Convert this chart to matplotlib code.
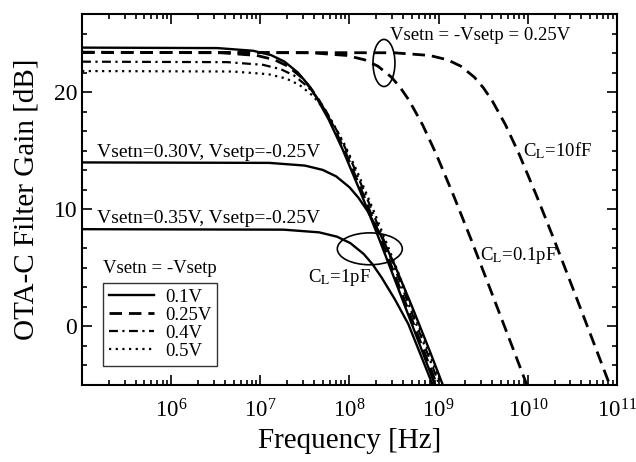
import numpy as np
import matplotlib
matplotlib.use("Agg")
import matplotlib.pyplot as plt
from matplotlib.patches import Ellipse
from matplotlib.lines import Line2D
from matplotlib.ticker import FixedLocator, LogLocator, MultipleLocator, NullFormatter, LogFormatterMathtext

plt.rcParams['font.family'] = ['Liberation Serif', 'DejaVu Serif']
plt.rcParams['mathtext.fontset'] = 'stix'

# ---- data (log10 of frequency in Hz, gain in dB) ----
lf_01v = [5.0, 6.52, 6.92, 7.12, 7.27, 7.42, 7.52, 7.62, 7.77, 7.92, 8.12, 8.32, 8.52, 8.77, 9.02]
g_01v = [23.8, 23.76, 23.53, 23.16, 22.61, 21.68, 20.79, 19.68, 17.61, 15.16, 11.53, 7.71, 3.76, -1.21, -6.2]

lf_025v = [5.0, 6.56, 6.96, 7.16, 7.31, 7.46, 7.56, 7.66, 7.81, 7.96, 8.16, 8.36, 8.56, 8.81, 9.06]
g_025v = [23.4, 23.36, 23.13, 22.76, 22.21, 21.28, 20.39, 19.28, 17.21, 14.76, 11.13, 7.31, 3.36, -1.61, -6.6]

lf_04v = [5.0, 6.63, 7.03, 7.23, 7.38, 7.53, 7.63, 7.73, 7.88, 8.03, 8.23, 8.43, 8.63, 8.88, 9.13]
g_04v = [22.6, 22.56, 22.33, 21.96, 21.41, 20.48, 19.59, 18.48, 16.41, 13.96, 10.33, 6.51, 2.56, -2.41, -7.4]

lf_05v = [5.0, 6.69, 7.09, 7.29, 7.44, 7.59, 7.69, 7.79, 7.94, 8.09, 8.29, 8.49, 8.69, 8.94, 9.19]
g_05v = [21.8, 21.76, 21.53, 21.16, 20.61, 19.68, 18.79, 17.68, 15.61, 13.16, 9.53, 5.71, 1.76, -3.21, -8.2]

lf_030n = [5.0, 7.10, 7.50, 7.70, 7.85, 8.00, 8.10, 8.20, 8.35, 8.50, 8.70, 8.90, 9.10]
g_030n = [14.0, 13.96, 13.73, 13.36, 12.81, 11.88, 10.99, 9.88, 7.81, 5.36, 1.73, -2.09, -6.04]

lf_035n = [5.0, 7.26, 7.66, 7.86, 8.01, 8.16, 8.26, 8.36, 8.51, 8.66, 8.86, 9.06]
g_035n = [8.3, 8.26, 8.03, 7.66, 7.11, 6.18, 5.29, 4.18, 2.3, 0.2, -3.6, -7.4]

lf_cl01p = [5.0, 7.57, 7.97, 8.17, 8.32, 8.47, 8.57, 8.67, 8.82, 8.97, 9.17, 9.37, 9.57, 9.82, 10.07]
g_cl01p = [23.4, 23.36, 23.13, 22.76, 22.21, 21.28, 20.39, 19.28, 17.21, 14.76, 11.13, 7.31, 3.36, -1.61, -6.6]

lf_cl10f = [5.0, 8.50, 8.90, 9.10, 9.25, 9.40, 9.50, 9.60, 9.75, 9.90, 10.10, 10.30, 10.50, 10.75, 11.00]
g_cl10f = [23.4, 23.36, 23.13, 22.76, 22.21, 21.28, 20.39, 19.28, 17.21, 14.76, 11.13, 7.31, 3.36, -1.61, -6.6]

legend_labels = ['0.1V', '0.25V', '0.4V', '0.5V']
x_major_exps = [6, 7, 8, 9, 10, 11]

# ---- styles ----
solid = dict(color='black', lw=1.7, linestyle='-')
dashed = dict(color='black', lw=2.0, linestyle=(0, (4.5, 2.5)))
dashdot = dict(color='black', lw=1.6, linestyle=(0, (4, 2, 1, 2)))
dotted = dict(color='black', lw=1.6, linestyle=(0, (1, 2)))

fig = plt.figure(figsize=(6.36, 4.62), dpi=100)
ax = fig.add_axes([0.129, 0.1667, 0.841, 0.803])

def f(lf):
    return np.power(10.0, np.asarray(lf))

ax.plot(f(lf_05v), g_05v, **dotted)
ax.plot(f(lf_04v), g_04v, **dashdot)
ax.plot(f(lf_025v), g_025v, **dashed)
ax.plot(f(lf_01v), g_01v, **solid)
ax.plot(f(lf_030n), g_030n, **solid)
ax.plot(f(lf_035n), g_035n, **solid)
ax.plot(f(lf_cl01p), g_cl01p, **dashed)
ax.plot(f(lf_cl10f), g_cl10f, **dashed)

ax.set_xscale('log')
ax.set_xlim(1e5, 1e11)
ax.set_ylim(-5, 26.67)

ax.xaxis.set_major_locator(FixedLocator([10.0 ** e for e in x_major_exps]))
ax.xaxis.set_major_formatter(LogFormatterMathtext())
ax.xaxis.set_minor_locator(LogLocator(base=10, subs=np.arange(2, 10), numticks=20))
ax.xaxis.set_minor_formatter(NullFormatter())
ax.yaxis.set_major_locator(MultipleLocator(10))
ax.yaxis.set_minor_locator(MultipleLocator(10 / 6))

ax.tick_params(which='both', direction='in', top=True, right=True, width=1.2)
ax.tick_params(axis='y', labelsize=17)
ax.tick_params(axis='x', labelsize=16.5, pad=10)
ax.tick_params(which='major', length=7)
ax.tick_params(which='minor', length=3.5)
for sp in ax.spines.values():
    sp.set_linewidth(1.5)

ax.set_xlabel('Frequency [Hz]', fontsize=21, labelpad=4)
ax.set_ylabel('OTA-C Filter Gain [dB]', fontsize=21, labelpad=10)

# annotations
tfs = 13.5
ax.text(0.576, 0.943, 'Vsetn = -Vsetp = 0.25V', transform=ax.transAxes, fontsize=tfs, va='center', ha='left')
ax.text(0.028, 0.628, 'Vsetn=0.30V, Vsetp=-0.25V', transform=ax.transAxes, fontsize=14, va='center', ha='left')
ax.text(0.028, 0.450, 'Vsetn=0.35V, Vsetp=-0.25V', transform=ax.transAxes, fontsize=14, va='center', ha='left')
ax.text(0.824, 0.633, r'C$_{\mathrm{L}}$=10fF', transform=ax.transAxes, fontsize=tfs, va='center', ha='left')
ax.text(0.744, 0.350, r'C$_{\mathrm{L}}$=0.1pF', transform=ax.transAxes, fontsize=tfs, va='center', ha='left')
ax.text(0.422, 0.291, r'C$_{\mathrm{L}}$=1pF', transform=ax.transAxes, fontsize=tfs, va='center', ha='left')

ax.add_patch(Ellipse((0.5645, 0.868), 0.041, 0.127, transform=ax.transAxes,
                     fill=False, edgecolor='black', lw=1.2))
ax.add_patch(Ellipse((0.538, 0.367), 0.1215, 0.086, transform=ax.transAxes,
                     fill=False, edgecolor='black', lw=1.2))

# legend
ax.text(0.039, 0.315, 'Vsetn = -Vsetp', transform=ax.transAxes, fontsize=tfs, va='center', ha='left')
handles = [Line2D([], [], **solid), Line2D([], [], **dashed),
           Line2D([], [], **dashdot), Line2D([], [], **dotted)]
leg = ax.legend(handles, legend_labels, loc='upper left', bbox_to_anchor=(0.039, 0.275),
                borderaxespad=0, fontsize=tfs, frameon=True, fancybox=False,
                handlelength=2.4, handletextpad=0.6, labelspacing=0.05,
                borderpad=0.3, edgecolor='black')
leg.get_frame().set_linewidth(1.0)

fig.savefig('out.png', dpi=100)
